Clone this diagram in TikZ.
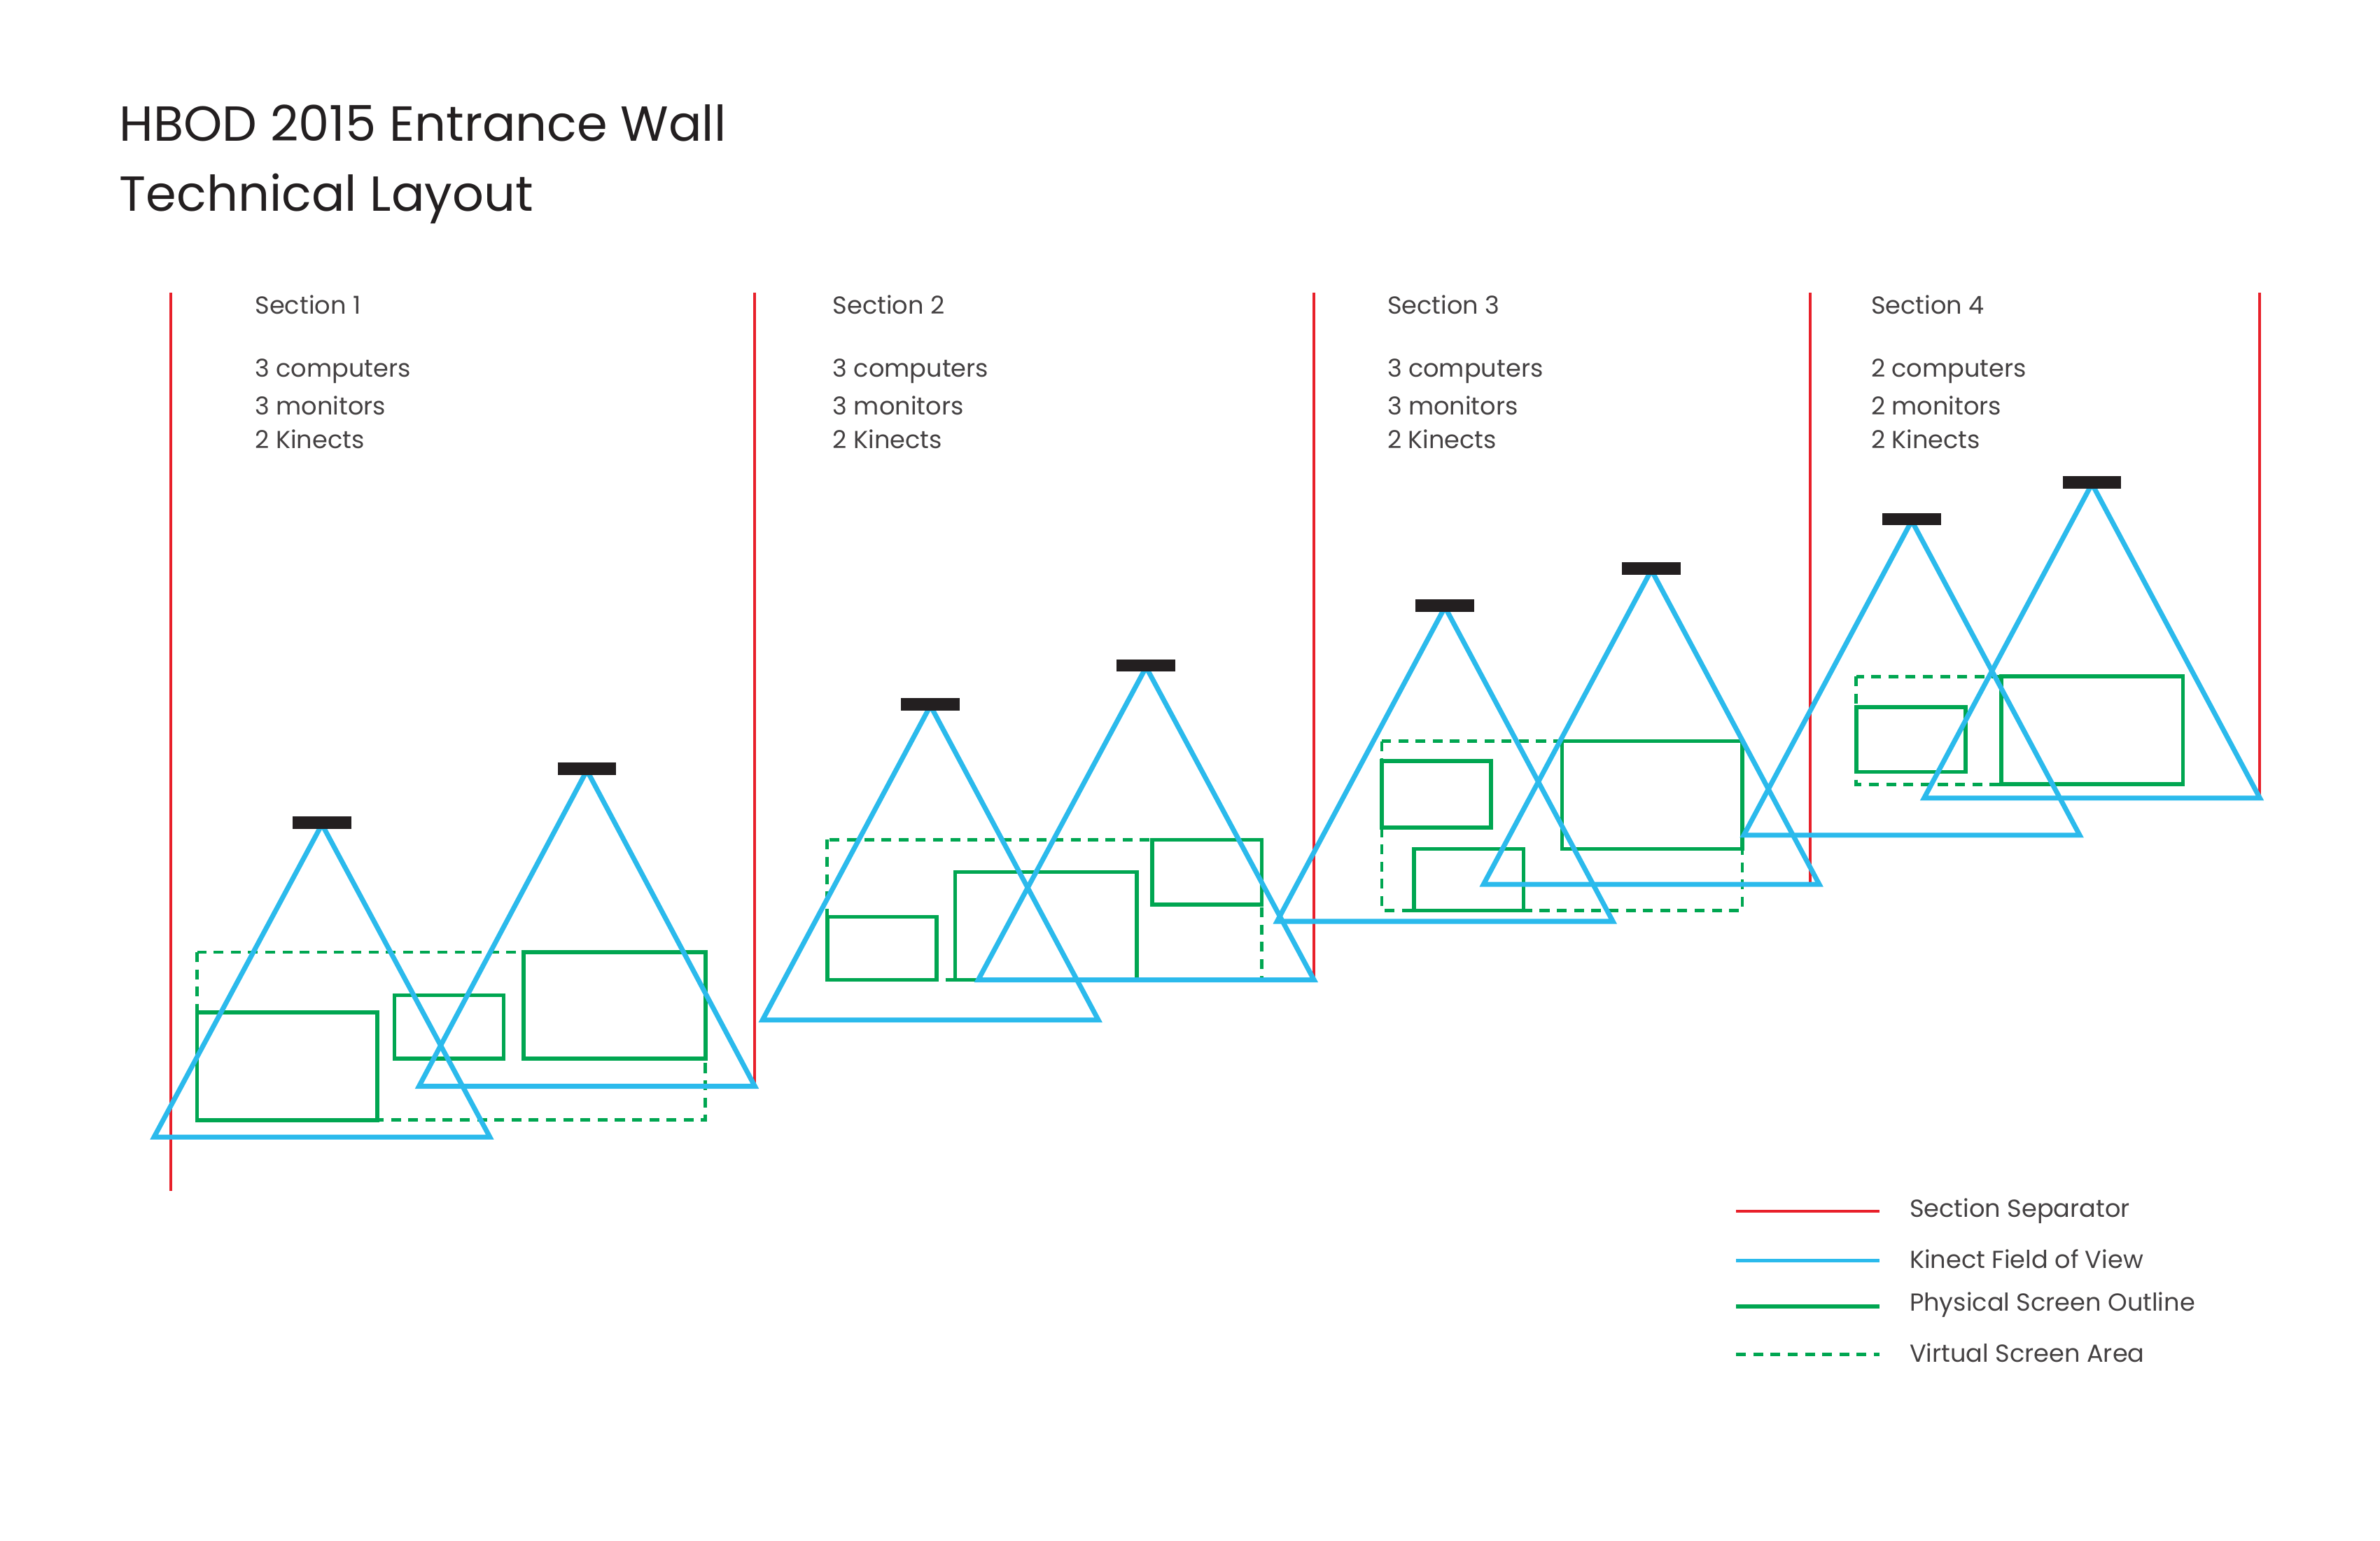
\documentclass[tikz,border=0pt]{standalone}
\usepackage{fontspec}
\setmainfont{Poppins}
\definecolor{sepred}{HTML}{E8202A}
\definecolor{kblue}{HTML}{2BBAEC}
\definecolor{sgreen}{HTML}{00A651}
\definecolor{kbar}{HTML}{231F20}
\begin{document}
\begin{tikzpicture}[x=0.022cm,y=-0.022cm,
  sep/.style={sepred,line width=1.1pt},
  fov/.style={kblue,line width=2pt,line join=miter},
  scr/.style={sgreen,line width=1.6pt},
  vscr/.style={sgreen,line width=1.4pt,dash pattern=on 4pt off 3pt},
  bar/.style={kbar,line width=5pt},
  txt/.style={anchor=west,font=\fontsize{10}{12}\selectfont,text=kbar!85},
  ttl/.style={anchor=west,font=\fontsize{20}{24}\selectfont,text=kbar}]
\useasboundingbox (0,0) rectangle (1545,1000);
\node[ttl] (t1) at (72,80) {HBOD 2015 Entrance Wall};
\node[ttl] (t2) at (72,129) {Technical Layout};
% separators
\draw[sep] (111,190) -- (111,773);
\draw[sep] (490,190) -- (490,705);
\draw[sep] (853,190) -- (853,636);
\draw[sep] (1175,190) -- (1175,574);
\draw[sep] (1467,190) -- (1467,518);
% section texts
\foreach \x/\n/\c/\m in {163/1/3/3, 538/2/3/3, 898/3/3/3, 1212/4/2/2}{
  \node[txt] (s\n) at (\x-3,198) {Section \n};
  \node[txt] (c\n) at (\x-3,241) {\c\ computers};
  \node[txt] (m\n) at (\x-3,263) {\m\ monitors};
  \node[txt] (k\n) at (\x-3,285) {2 Kinects};
}
% screens
\draw[vscr] (128,618) rectangle (458,727);
\draw[scr] (128,657) rectangle (245,727);
\draw[scr] (256,646) rectangle (327,687);
\draw[scr] (340,618) rectangle (458,687);
\draw[vscr] (537,545) rectangle (819,636);
\draw[scr] (537,595) rectangle (608,636);
\draw[scr] (620,566) rectangle (738,636);
\draw[scr] (748,545) rectangle (819,587);
\draw[vscr] (897,481) rectangle (1131,591);
\draw[scr] (897,494) rectangle (968,537);
\draw[scr] (918,551) rectangle (989,591);
\draw[scr] (1014,481) rectangle (1131,551);
\draw[vscr] (1205,439) rectangle (1417,509);
\draw[scr] (1205,459) rectangle (1276,501);
\draw[scr] (1299,439) rectangle (1417,509);
% kinects
\foreach \ax/\ay/\by in {209/535/738, 381/500/705, 604/458/662, 744/433/636, 938/394/598, 1072/370/574, 1241/338/542, 1358/314/518}{
  \draw[fov] (\ax,\ay) -- (\ax-109,\by) -- (\ax+109,\by) -- cycle;
  \draw[bar] (\ax-19,\ay-1) -- (\ax+19,\ay-1);
}
% legend
\draw[sep] (1127,786) -- (1220,786);
\draw[fov,line width=1.4pt] (1127,818) -- (1220,818);
\draw[scr] (1127,848) -- (1220,848);
\draw[vscr] (1127,879) -- (1220,879);
\node[txt] (l1) at (1234,786) {Section Separator};
\node[txt] (l2) at (1234,817) {Kinect Field of View};
\node[txt] (l3) at (1234,847) {Physical Screen Outline};
\node[txt] (l4) at (1234,878) {Virtual Screen Area};
\end{tikzpicture}
\end{document}
